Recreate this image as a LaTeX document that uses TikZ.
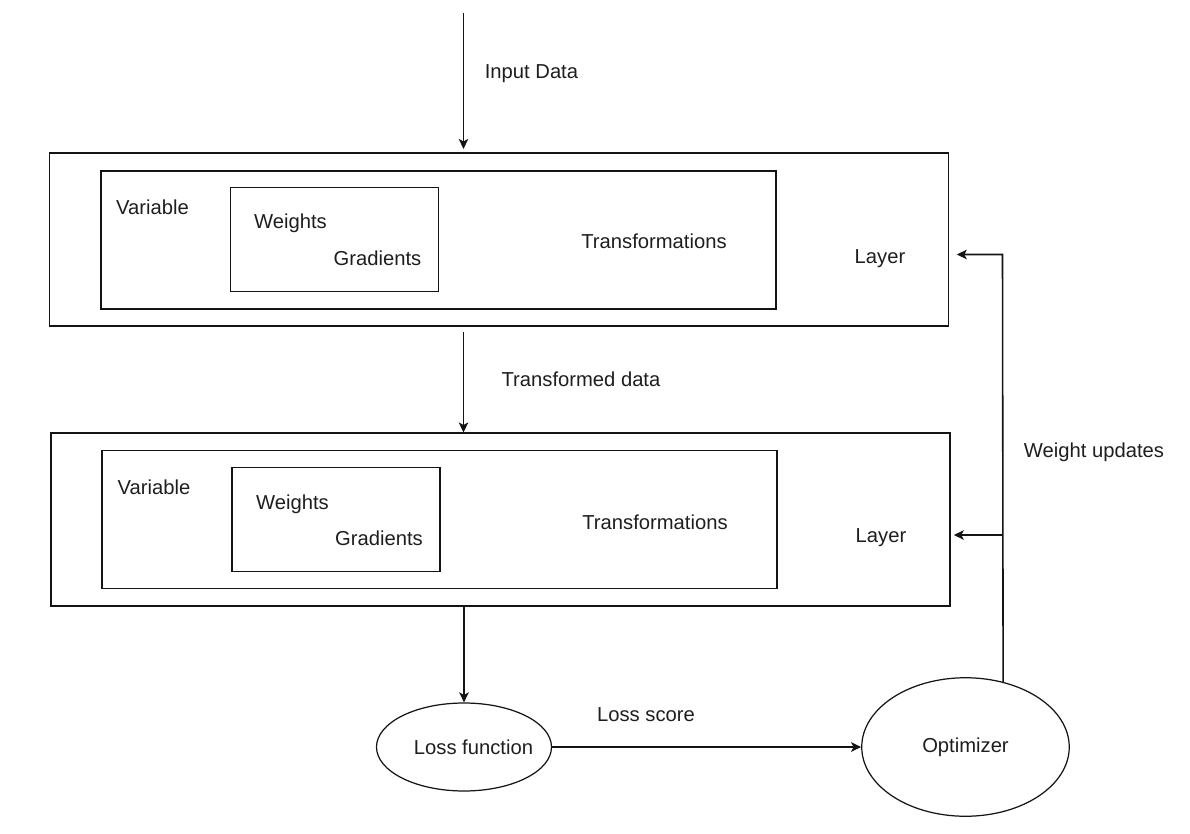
\documentclass[tikz,border=0pt]{standalone}
\usepackage{fontspec}
\setmainfont{Liberation Sans}
\usetikzlibrary{positioning,shapes.geometric,arrows.meta}
\definecolor{edgecolor}{RGB}{20,20,20}
\definecolor{textcolor}{RGB}{30,30,30}

\begin{document}
\begin{tikzpicture}[>={Stealth[length=0.2cm,width=0.19cm,inset=0.05cm]}]
  % Node styles
  \tikzset{
    layerbox/.style={rectangle, draw=edgecolor, line width=0.9pt, minimum width=17.98cm, minimum height=3.45cm, inner sep=0pt},
    varbox/.style={rectangle, draw=edgecolor, line width=0.9pt, minimum width=13.49cm, minimum height=2.76cm, inner sep=0pt},
    tensorbox/.style={rectangle, draw=edgecolor, line width=0.9pt, minimum width=4.16cm, minimum height=2.08cm, inner sep=0pt},
    lossnode/.style={ellipse, draw=edgecolor, line width=0.7pt, minimum width=3.5cm, minimum height=1.76cm, inner sep=0pt},
    optnode/.style={ellipse, draw=edgecolor, line width=0.7pt, minimum width=4.15cm, minimum height=2.77cm, inner sep=0pt, font=\fontsize{11.5}{13}\selectfont, text=textcolor},
    lbl/.style={inner sep=0pt, font=\fontsize{11.5}{13}\selectfont, text=textcolor},
    flow/.style={->, line width=0.9pt, color=edgecolor}
  }
  \useasboundingbox (0,0) rectangle (23.8,-16.68);

  % First layer
  \node[layerbox] (layer1) at (9.98,-4.79) {};
  \node[varbox] (var1) at (8.77,-4.80) {};
  \node[tensorbox] (tensor1) at (6.69,-4.79) {};
  \node[lbl] (varlbl1) at (3.05,-4.15) {Variable};
  \node[lbl] (wlbl1) at (5.81,-4.46) {Weights};
  \node[lbl] (glbl1) at (7.55,-5.16) {Gradients};
  \node[lbl] (tlbl1) at (13.08,-4.83) {Transformations};
  \node[lbl] (laylbl1) at (17.6,-5.18) {Layer};

  % Second layer
  \node[layerbox] (layer2) at (10.01,-10.39) {};
  \node[varbox] (var2) at (8.79,-10.39) {};
  \node[tensorbox] (tensor2) at (6.72,-10.39) {};
  \node[lbl] (varlbl2) at (3.08,-9.74) {Variable};
  \node[lbl] (wlbl2) at (5.85,-10.08) {Weights};
  \node[lbl] (glbl2) at (7.58,-10.76) {Gradients};
  \node[lbl] (tlbl2) at (13.1,-10.44) {Transformations};
  \node[lbl] (laylbl2) at (17.62,-10.76) {Layer};

  % Loss and optimizer
  \node[lossnode, label={[lbl, xshift=0.19cm]center:Loss function}] (loss) at (9.28,-14.94) {};
  \node[optnode] (opt) at (19.31,-14.94) {Optimizer};

  % Edge labels
  \node[lbl] (inlbl) at (10.63,-1.48) {Input Data};
  \node[lbl] (translbl) at (11.62,-7.58) {Transformed data};
  \node[lbl] (scorelbl) at (12.92,-14.30) {Loss score};
  \node[lbl] (updlbl) at (21.88,-9.05) {Weight updates};

  % Edges
  \coordinate (src) at (9.27,-0.26);
  \coordinate (wtop) at (20.05,-5.09);
  \coordinate (wmid) at (20.05,-10.70);
  \draw[flow, shorten >=2pt] (src) -- (src |- layer1.north);
  \draw[flow, shorten <=3pt] (src |- layer1.south) -- (src |- layer2.north);
  \draw[flow] (layer2.south -| loss.north) -- (loss.north);
  \draw[flow] (loss.east) -- (opt.west);
  \draw[flow, shorten >=0.15cm] (opt.60) -- (wtop) -- (wtop -| layer1.east);
  \draw[flow, shorten >=0.06cm] (wmid) -- (wmid -| layer2.east);
\end{tikzpicture}
\end{document}
